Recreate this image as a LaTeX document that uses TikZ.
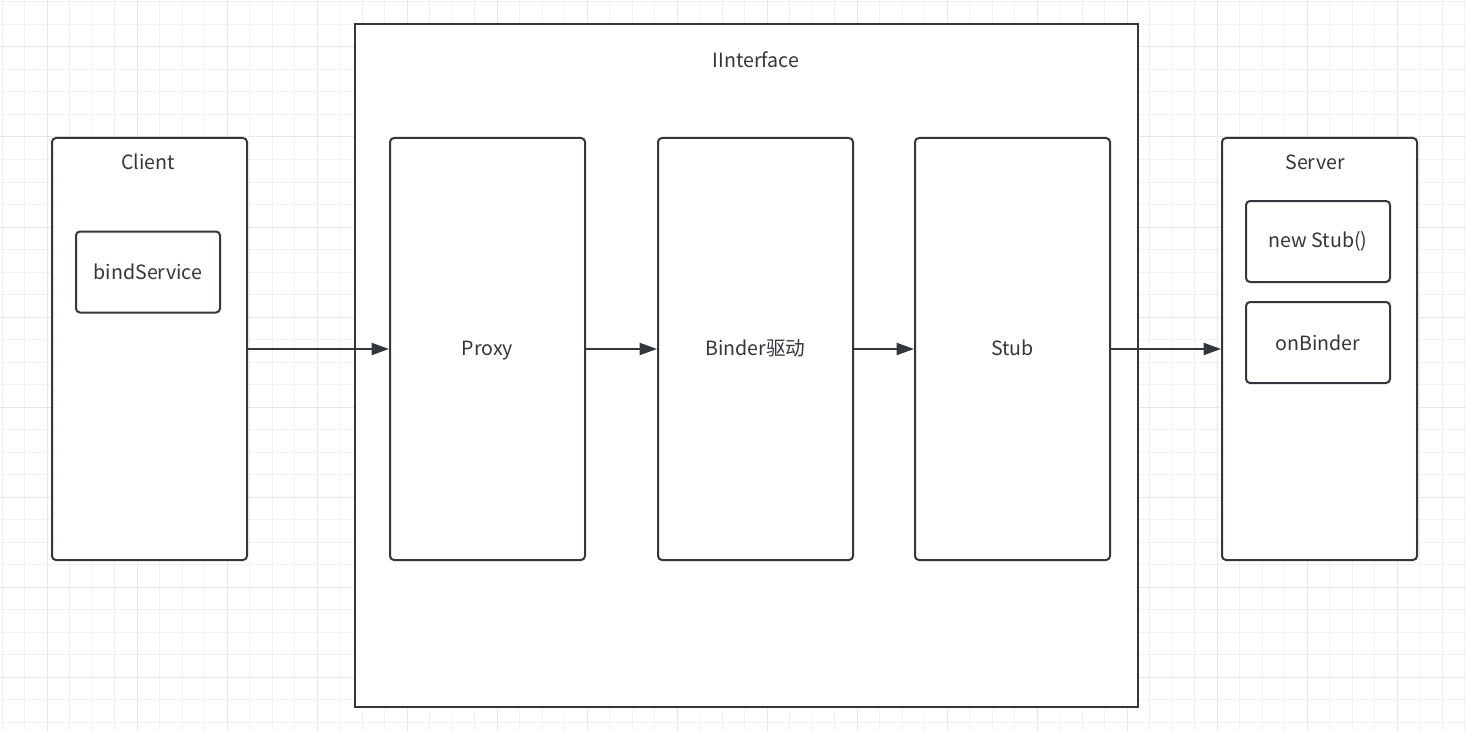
\documentclass[tikz,border=0pt]{standalone}
\usepackage{fontspec}
\setmainfont{Noto Sans CJK SC}
\usetikzlibrary{arrows.meta}
\definecolor{edge}{HTML}{33363B}
\definecolor{gridminor}{HTML}{F2F2F2}
\definecolor{gridmajor}{HTML}{E8E8E8}
\begin{document}
\begin{tikzpicture}[x=0.75pt, y=-0.75pt,
    font=\fontsize{14.7}{17}\selectfont, text=edge,
    panel/.style={draw=edge, fill=white, line width=1.5pt, rectangle, rounded corners=3pt,
        minimum width=146.25pt, minimum height=316.5pt, inner sep=0pt,
        text height=1em, text depth=0.08em},
    item/.style={draw=edge, fill=white, line width=1.5pt, rectangle, rounded corners=3pt,
        minimum width=108pt, minimum height=60.75pt, inner sep=0pt},
    flow/.style={draw=edge, line width=1.5pt, -{Triangle[length=13pt, width=9pt]}}]
    \useasboundingbox (0,0) rectangle (1466,731);
    % canvas grid
    \foreach \k in {0,...,65} \draw[gridminor, line width=0.75pt] ({2+22.5*\k},0) -- ({2+22.5*\k},731);
    \foreach \k in {0,...,32} \draw[gridminor, line width=0.75pt] (0,{2+22.5*\k}) -- (1466,{2+22.5*\k});
    \foreach \k in {0,...,16} \draw[gridmajor, line width=0.75pt] ({47+90*\k},0) -- ({47+90*\k},731);
    \foreach \k in {0,...,8} \draw[gridmajor, line width=0.75pt] (0,{47+90*\k}) -- (1466,{47+90*\k});
    % interface frame
    \node[draw=edge, fill=white, line width=1.5pt, rectangle, minimum width=587.25pt, minimum height=512.25pt] (iface) at (746.5, 365.5) {};
    \node (ifaceT) at (756, 60) {IInterface};
    % client side
    \node[panel] (client) at (149.5, 349) {};
    \node (clientT) at (148, 162) {Client};
    \node[item] (bind) at (148, 272) {bindService};
    % inner layers
    \node[panel] (proxy) at (487.5, 349) {Proxy};
    \node[panel] (binder) at (755.5, 349) {Binder驱动};
    \node[panel] (stub) at (1012.5, 349) {Stub};
    % server side
    \node[panel] (server) at (1319.5, 349) {};
    \node (serverT) at (1315, 162) {Server};
    \node[item] (newstub) at (1318, 241.5) {new Stub()};
    \node[item] (onbind) at (1318, 342.5) {onBinder};
    % calls
    \draw[flow] (client.east) -- (proxy.west);
    \draw[flow] (proxy.east) -- (binder.west);
    \draw[flow] (binder.east) -- (stub.west);
    \draw[flow] (stub.east) -- (server.west);
\end{tikzpicture}
\end{document}
